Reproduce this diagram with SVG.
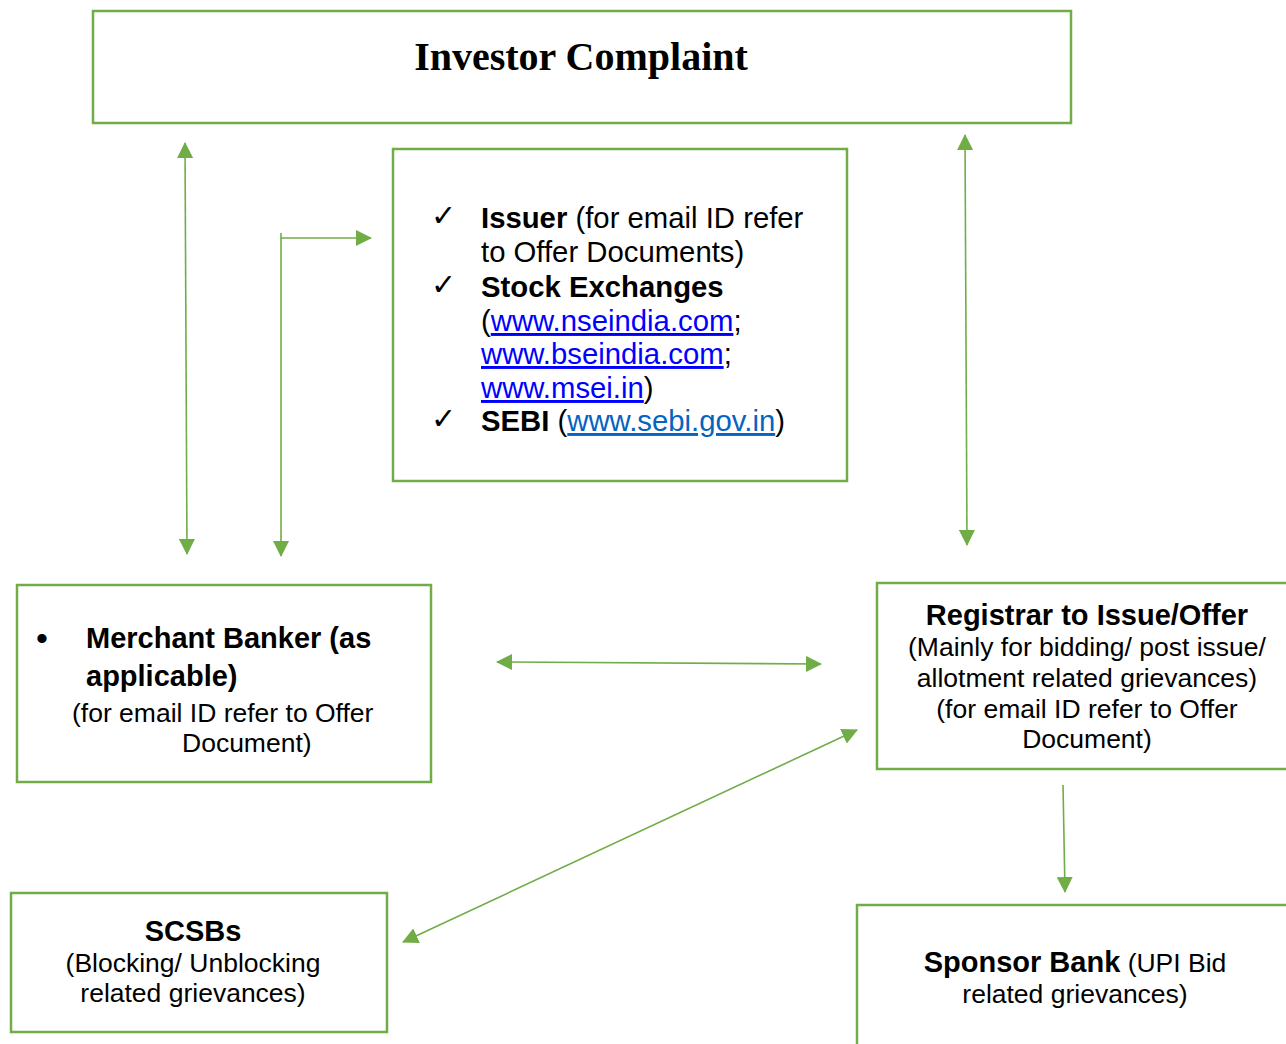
<svg xmlns="http://www.w3.org/2000/svg" width="1286" height="1044" viewBox="0 0 1286 1044">
<style>
.box{fill:#fff;stroke:#70AD47;stroke-width:2.5}
.con{fill:none;stroke:#70AD47;stroke-width:1.6}
.t{font-family:"Liberation Sans",Arial,sans-serif;fill:#000}
.b{font-weight:bold}
.r{font-size:26.5px}
.m{font-size:29px}
.mm{font-size:29.3px}
.c{text-anchor:middle}
.lk{fill:#0000FF;text-decoration:underline}
.lk2{fill:#0563C1;text-decoration:underline}
.ck{font-family:"DejaVu Sans",sans-serif;font-size:30px;fill:#000}
</style>
<defs>
<marker id="ah" viewBox="0 0 16 16" refX="15" refY="8" markerWidth="16" markerHeight="16" markerUnits="userSpaceOnUse" orient="auto-start-reverse">
<path d="M0,0 L16,8 L0,16 z" fill="#70AD47"/>
</marker>
</defs>
<rect width="1286" height="1044" fill="#fff"/>
<g id="investor-complaint">
<rect class="box" x="93" y="11" width="978" height="112"/>
<text x="581" y="70" text-anchor="middle" font-family="Liberation Serif,'Times New Roman',serif" font-weight="bold" font-size="40">Investor Complaint</text>
</g>
<g id="authorities">
<rect class="box" x="393" y="149" width="454" height="332"/>
<text class="ck" x="431" y="226">✓</text>
<text class="t mm" x="481" y="228"><tspan class="b">Issuer</tspan> (for email ID refer</text>
<text class="t mm" x="481" y="262">to Offer Documents)</text>
<text class="ck" x="431" y="295">✓</text>
<text class="t mm b" x="481" y="297">Stock Exchanges</text>
<text class="t mm" x="481" y="331">(<tspan class="lk">www.nseindia.com</tspan>;</text>
<text class="t mm" x="481" y="364"><tspan class="lk">www.bseindia.com</tspan>;</text>
<text class="t mm" x="481" y="398"><tspan class="lk">www.msei.in</tspan>)</text>
<text class="ck" x="431" y="429">✓</text>
<text class="t mm" x="481" y="431"><tspan class="b">SEBI</tspan> (<tspan class="lk2">www.sebi.gov.in</tspan>)</text>
</g>
<g id="merchant-banker">
<rect class="box" x="17" y="585" width="414" height="197"/>
<text class="t" x="36" y="650" font-size="34">•</text>
<text class="t m b" x="86" y="648">Merchant Banker (as</text>
<text class="t m b" x="86" y="686">applicable)</text>
<text class="t r" x="72" y="722">(for email ID refer to Offer</text>
<text class="t r" x="182" y="752">Document)</text>
</g>
<g id="registrar">
<rect class="box" x="877" y="583" width="420" height="186"/>
<text class="t m b c" x="1087" y="625">Registrar to Issue/Offer</text>
<text class="t r c" x="1087" y="656">(Mainly for bidding/ post issue/</text>
<text class="t r c" x="1087" y="687">allotment related grievances)</text>
<text class="t r c" x="1087" y="718">(for email ID refer to Offer</text>
<text class="t r c" x="1087" y="748">Document)</text>
</g>
<g id="scsbs">
<rect class="box" x="11" y="893" width="376" height="139"/>
<text class="t m b c" x="193" y="941">SCSBs</text>
<text class="t r c" x="193" y="972">(Blocking/ Unblocking</text>
<text class="t r c" x="193" y="1002">related grievances)</text>
</g>
<g id="sponsor-bank">
<rect class="box" x="857" y="905" width="440" height="150"/>
<text class="t r c" x="1075" y="972"><tspan class="b m">Sponsor Bank</tspan> (UPI Bid</text>
<text class="t r c" x="1075" y="1003">related grievances)</text>
</g>
<g id="connectors">
<line class="con" x1="185" y1="143" x2="187" y2="554" marker-start="url(#ah)" marker-end="url(#ah)"/>
<line class="con" x1="281" y1="233" x2="281" y2="556" marker-end="url(#ah)"/>
<line class="con" x1="281" y1="238" x2="371" y2="238" marker-end="url(#ah)"/>
<line class="con" x1="965" y1="135" x2="967" y2="545" marker-start="url(#ah)" marker-end="url(#ah)"/>
<line class="con" x1="497" y1="662" x2="821" y2="664" marker-start="url(#ah)" marker-end="url(#ah)"/>
<line class="con" x1="857" y1="730" x2="403" y2="942" marker-start="url(#ah)" marker-end="url(#ah)"/>
<line class="con" x1="1063" y1="785" x2="1065" y2="892" marker-end="url(#ah)"/>
</g>
</svg>
